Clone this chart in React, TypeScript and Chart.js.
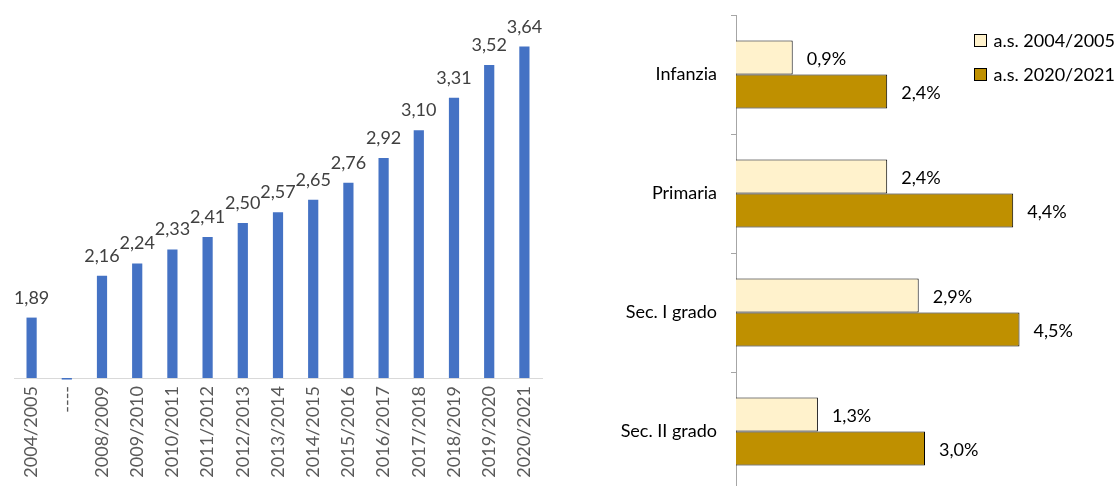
import React, { useEffect, useRef } from "react";
import { Chart, registerables } from "chart.js";

Chart.register(...registerables);

// ---------- Left chart data ----------
const yearLabels = [
  "2004/2005", "----", "2008/2009", "2009/2010", "2010/2011", "2011/2012", "2012/2013",
  "2013/2014", "2014/2015", "2015/2016", "2016/2017", "2017/2018", "2018/2019",
  "2019/2020", "2020/2021",
];
const yearValues = [1.89, 1.49, 2.16, 2.24, 2.33, 2.41, 2.5, 2.57, 2.65, 2.76, 2.92, 3.1, 3.31, 3.52, 3.64];
const yMin = 1.5;
const yMax = 3.85;

// ---------- Right chart data ----------
const levelLabels = ["Infanzia", "Primaria", "Sec. I grado", "Sec. II grado"];
const series2004 = [0.9, 2.4, 2.9, 1.3];
const series2020 = [2.4, 4.4, 4.5, 3.0];
const seriesNames = ["a.s. 2004/2005", "a.s. 2020/2021"];
const xMax = 6;

const FONT = "Lato, 'Open Sans', sans-serif";
const fmt = (v: number, d: number) => v.toFixed(d).replace(".", ",");

const leftLabelsPlugin = {
  id: "leftLabels",
  afterDatasetsDraw(chart: any) {
    const ctx = chart.ctx;
    const meta = chart.getDatasetMeta(0);
    ctx.save();
    ctx.font = `18px ${FONT}`;
    ctx.fillStyle = "#404040";
    ctx.textAlign = "center";
    ctx.textBaseline = "alphabetic";
    meta.data.forEach((bar: any, i: number) => {
      const v = yearValues[i];
      if (v == null || v < yMin) return;
      ctx.fillText(fmt(v, 2), bar.x, bar.y - 14);
    });
    ctx.restore();
  },
};

const rightLabelsPlugin = {
  id: "rightLabels",
  afterDatasetsDraw(chart: any) {
    const ctx = chart.ctx;
    ctx.save();
    ctx.font = `18px ${FONT}`;
    ctx.fillStyle = "#000000";
    ctx.textAlign = "left";
    ctx.textBaseline = "middle";
    chart.data.datasets.forEach((ds: any, di: number) => {
      const meta = chart.getDatasetMeta(di);
      meta.data.forEach((bar: any, i: number) => {
        ctx.fillText(fmt(ds.data[i], 1) + "%", bar.x + 14, bar.y + 2);
      });
    });
    ctx.restore();
  },
};

const rightLegendPlugin = {
  id: "rightLegend",
  afterDraw(chart: any) {
    const ctx = chart.ctx;
    ctx.save();
    ctx.font = `18px ${FONT}`;
    ctx.textAlign = "left";
    ctx.textBaseline = "middle";
    chart.data.datasets.forEach((ds: any, i: number) => {
      const cy = 40 + i * 34;
      const x = 414.5;
      ctx.fillStyle = ds.backgroundColor;
      ctx.fillRect(x, cy - 6, 12, 12);
      ctx.strokeStyle = "#000";
      ctx.lineWidth = 1;
      ctx.strokeRect(x, cy - 6 + 0.5, 12, 12);
      ctx.fillStyle = "#000";
      ctx.fillText(ds.label, x + 19, cy + 1);
    });
    ctx.restore();
  },
};

export default function App() {
  const leftRef = useRef<HTMLCanvasElement | null>(null);
  const rightRef = useRef<HTMLCanvasElement | null>(null);

  useEffect(() => {
    const left = new Chart(leftRef.current as HTMLCanvasElement, {
      type: "bar",
      data: {
        labels: yearLabels,
        datasets: [
          {
            data: yearValues,
            backgroundColor: "#4472C4",
            borderWidth: 0,
            categoryPercentage: 1,
            barPercentage: 0.29,
            base: yMin,
            clip: false,
          },
        ],
      },
      options: {
        responsive: false,
        animation: false,
        layout: { padding: { top: 14, left: 14, right: 18, bottom: 0 } },
        plugins: { legend: { display: false }, tooltip: { enabled: false } },
        scales: {
          x: {
            grid: { display: true, drawOnChartArea: false, drawTicks: false, color: "rgba(0,0,0,0)" },
            border: { display: true, color: "#D9D9D9", width: 1 },
            ticks: {
              minRotation: 90,
              maxRotation: 90,
              autoSkip: false,
              padding: 8,
              color: "#595959",
              font: { family: FONT, size: 18 },
            },
            afterFit: (s: any) => {
              s.height = 108;
            },
          },
          y: { display: false, min: yMin, max: yMax },
        },
      },
      plugins: [leftLabelsPlugin],
    });

    const right = new Chart(rightRef.current as HTMLCanvasElement, {
      type: "bar",
      data: {
        labels: levelLabels,
        datasets: [
          {
            label: seriesNames[0],
            data: series2004,
            backgroundColor: "#FFF2CC",
            borderColor: "#000000",
            borderWidth: 1,
            categoryPercentage: 0.57,
            barPercentage: 1,
          },
          {
            label: seriesNames[1],
            data: series2020,
            backgroundColor: "#BF9000",
            borderColor: "#000000",
            borderWidth: 1,
            categoryPercentage: 0.57,
            barPercentage: 1,
          },
        ],
      },
      options: {
        indexAxis: "y",
        responsive: false,
        animation: false,
        layout: { padding: { top: 15, left: 0, right: 6, bottom: 0 } },
        plugins: { legend: { display: false }, tooltip: { enabled: false } },
        scales: {
          x: { display: false, min: 0, max: xMax },
          y: {
            grid: { display: true, drawOnChartArea: false, drawTicks: true, tickLength: 5, color: "#A6A6A6", offset: true },
            border: { display: true, color: "#A6A6A6", width: 1 },
            ticks: {
              padding: 14,
              color: "#000000",
              font: { family: FONT, size: 18 },
            },
            afterFit: (s: any) => {
              s.width = 176;
              s.paddingTop = 0;
              s.paddingBottom = 0;
            },
          },
        },
      },
      plugins: [rightLabelsPlugin, rightLegendPlugin],
    });

    return () => {
      left.destroy();
      right.destroy();
    };
  }, []);

  return (
    <div
      style={{
        position: "fixed",
        left: 0,
        top: 0,
        width: 1120,
        height: 486,
        overflow: "hidden",
        background: "#ffffff",
      }}
    >
      <canvas ref={leftRef} width={560} height={486} style={{ position: "absolute", left: 0, top: 0 }} />
      <canvas ref={rightRef} width={560} height={491} style={{ position: "absolute", left: 560, top: 0 }} />
    </div>
  );
}
